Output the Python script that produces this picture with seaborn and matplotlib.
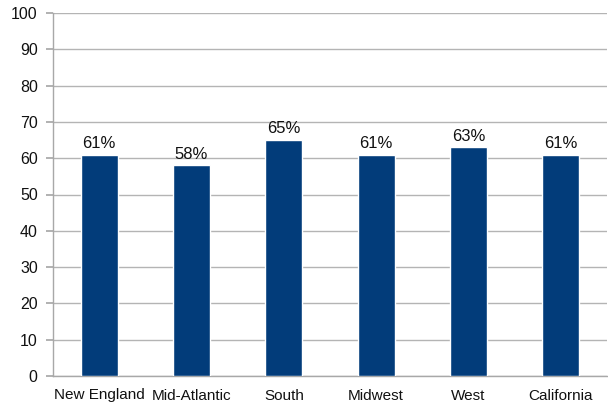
import matplotlib
matplotlib.use("Agg")
import matplotlib.pyplot as plt
import seaborn as sns
import pandas as pd
import numpy as np

regions = ["New England", "Mid-Atlantic", "South", "Midwest", "West", "California"]
values = [61, 58, 65, 61, 63, 61]
y_ticks = [0, 10, 20, 30, 40, 50, 60, 70, 80, 90, 100]

df = pd.DataFrame({"region": regions, "value": values})

sns.set_theme(style="white")
plt.rcParams["font.family"] = ["Liberation Sans", "DejaVu Sans"]

fig = plt.figure(figsize=(6.08, 4.09), dpi=100)
ax = fig.add_axes([53 / 608, 33 / 409, 554 / 608, 363 / 409])

bar_color = "#023c7a"
sns.barplot(data=df, x="region", y="value", color=bar_color, width=0.4,
            saturation=1, ax=ax, zorder=3)

for patch, v in zip(ax.patches, values):
    ax.text(patch.get_x() + patch.get_width() / 2, v + 1.0, f"{v}%",
            ha="center", va="bottom", fontsize=12, color="#111111")

ax.set_ylim(0, 100)
ax.set_xlim(-0.5, len(regions) - 0.5)
ax.set_yticks(y_ticks)
ax.yaxis.grid(True, color="#b4b4b4", linewidth=1, zorder=0)
ax.set_axisbelow(True)
ax.set_xlabel("")
ax.set_ylabel("")

grey = "#a8a8a8"
for side in ["top", "right"]:
    ax.spines[side].set_visible(False)
for side in ["left", "bottom"]:
    ax.spines[side].set_color(grey)
    ax.spines[side].set_linewidth(1)

ax.set_xticks(np.arange(-0.5, len(regions)), minor=True)
ax.tick_params(axis="x", which="major", length=0, pad=9, labelsize=11, colors="#111111")
ax.tick_params(axis="x", which="minor", length=5, color=grey, direction="out")
ax.tick_params(axis="y", length=5, color=grey, direction="out", pad=6,
               labelsize=11.5, labelcolor="#111111", left=True)

fig.savefig("out.png", dpi=100)
